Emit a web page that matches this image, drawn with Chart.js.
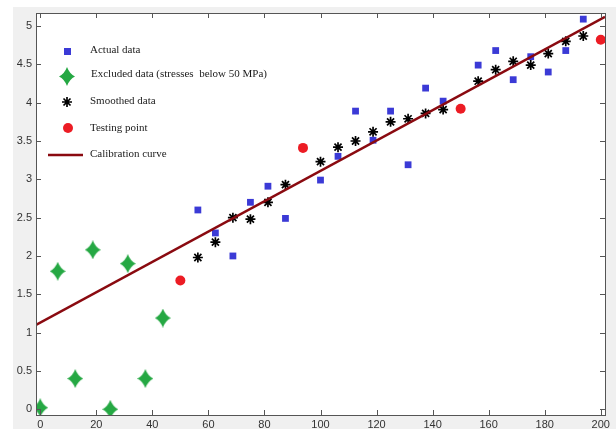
<!DOCTYPE html>
<html>
<head>
<meta charset="utf-8">
<script src="https://cdn.jsdelivr.net/npm/chart.js@4.4.1/dist/chart.umd.min.js"></script>
<style>
html, body { margin: 0; padding: 0; background: #fff; }
</style>
</head>
<body>
<canvas id="graph1" width="616" height="429"></canvas>
<script>
// data
var xTicks = [0, 20, 40, 60, 80, 100, 120, 140, 160, 180, 200];
var yTicks = [0, 0.5, 1, 1.5, 2, 2.5, 3, 3.5, 4, 4.5, 5];

var excludedX = [0, 6.25, 12.5, 18.75, 25, 31.25, 37.5, 43.75];
var excludedY = [0.02, 1.8, 0.4, 2.08, 0, 1.9, 0.4, 1.19];

var dataX = [56.25, 62.5, 68.75, 75, 81.25, 87.5, 100, 106.25, 112.5, 118.75, 125,
             131.25, 137.5, 143.75, 156.25, 162.5, 168.75, 175, 181.25, 187.5, 193.75];
var actualY = [2.6, 2.3, 2.0, 2.7, 2.91, 2.49, 2.99, 3.3, 3.89, 3.51, 3.89,
               3.19, 4.19, 4.02, 4.49, 4.68, 4.3, 4.6, 4.4, 4.68, 5.09];
var smoothedY = [1.98, 2.18, 2.5, 2.48, 2.7, 2.93, 3.23, 3.42, 3.5, 3.62, 3.75,
                 3.79, 3.86, 3.91, 4.28, 4.43, 4.54, 4.49, 4.64, 4.8, 4.87];

var testX = [50, 93.75, 150, 200];
var testY = [1.68, 3.41, 3.92, 4.82];

var calX = [-1.5, 201.5];
var calY = [1.1, 5.12];

function pts(xs, ys) {
    return xs.map(function (x, i) { return { x: x, y: ys[i] }; });
}

// green four-pointed star marker
function makeStar(color) {
    var c = document.createElement('canvas');
    c.width = 16; c.height = 19;
    var g = c.getContext('2d');
    var cx = 8, cy = 9.5, k = 2.6;
    g.fillStyle = color;
    g.beginPath();
    g.moveTo(cx, 0);
    g.quadraticCurveTo(cx + k, cy - k, 16, cy);
    g.quadraticCurveTo(cx + k, cy + k, cx, 19);
    g.quadraticCurveTo(cx - k, cy + k, 0, cy);
    g.quadraticCurveTo(cx - k, cy - k, cx, 0);
    g.closePath();
    g.fill();
    return c;
}
var greenStar = makeStar('#25a843');

var colBlue = '#3b3ad6', colRed = '#ec1c24', colLine = '#8a0a10';

var frame = {
    id: 'frame',
    beforeDraw: function (chart) {
        var c = chart.ctx, a = chart.chartArea;
        c.save();
        c.fillStyle = '#fff';
        c.fillRect(0, 0, chart.width, chart.height);
        c.fillStyle = '#f0f0f0';
        c.fillRect(13, 7, chart.width - 13, chart.height - 7);
        c.fillStyle = '#fff';
        c.fillRect(a.left, a.top, a.right - a.left, a.bottom - a.top);
        c.restore();
    },
    afterDraw: function (chart) {
        var c = chart.ctx, a = chart.chartArea;
        var xs = chart.scales.x, ys = chart.scales.y;
        c.save();
        // box and inward ticks
        c.strokeStyle = '#555';
        c.lineWidth = 1;
        c.strokeRect(a.left + 0.5, a.top + 0.5, a.right - a.left, a.bottom - a.top);
        c.beginPath();
        xTicks.forEach(function (v) {
            var p = Math.round(xs.getPixelForValue(v)) + 0.5;
            c.moveTo(p, a.bottom); c.lineTo(p, a.bottom - 5);
            c.moveTo(p, a.top); c.lineTo(p, a.top + 5);
        });
        yTicks.forEach(function (v) {
            var p = Math.round(ys.getPixelForValue(v)) + 0.5;
            c.moveTo(a.left, p); c.lineTo(a.left + 5, p);
            c.moveTo(a.right, p); c.lineTo(a.right - 5, p);
        });
        c.stroke();

        // legend
        var tx = 90;
        c.font = '11px "Liberation Serif", "Times New Roman", serif';
        c.fillStyle = '#1a1a1a';
        c.textBaseline = 'middle';
        c.fillText('Actual data', tx, 50);
        c.fillText('Excluded data (stresses  below 50 MPa)', tx + 1, 74);
        c.fillText('Smoothed data', tx, 101);
        c.fillText('Testing point', tx, 128);
        c.fillText('Calibration curve', tx, 154);

        c.fillStyle = colBlue;
        c.fillRect(64, 48, 7, 7);
        c.drawImage(greenStar, 59, 67);
        c.strokeStyle = '#000';
        c.lineWidth = 1.7;
        c.beginPath();
        c.moveTo(62, 102); c.lineTo(72, 102);
        c.moveTo(67, 97); c.lineTo(67, 107);
        c.moveTo(63.5, 98.5); c.lineTo(70.5, 105.5);
        c.moveTo(70.5, 98.5); c.lineTo(63.5, 105.5);
        c.stroke();
        c.fillStyle = colRed;
        c.beginPath();
        c.arc(68, 128, 5, 0, Math.PI * 2);
        c.fill();
        c.strokeStyle = colLine;
        c.lineWidth = 2.5;
        c.beginPath();
        c.moveTo(48, 155); c.lineTo(83, 155);
        c.stroke();
        c.restore();
    }
};

var ctx1 = document.getElementById('graph1').getContext('2d');
var graph1 = new Chart(ctx1, {
    type: 'scatter',
    data: {
        datasets: [{
            label: 'Calibration curve',
            type: 'line',
            data: pts(calX, calY),
            borderColor: colLine,
            borderWidth: 2.5,
            pointRadius: 0,
            order: 0,
            clip: 0
        }, {
            label: 'Testing point',
            data: pts(testX, testY),
            backgroundColor: colRed,
            borderWidth: 0,
            pointRadius: 5,
            order: 1,
            clip: 0
        }, {
            label: 'Smoothed data',
            data: pts(dataX, smoothedY),
            pointStyle: 'star',
            borderColor: '#000',
            borderWidth: 1.7,
            pointRadius: 5,
            order: 2,
            clip: 0
        }, {
            label: 'Actual data',
            data: pts(dataX, actualY),
            pointStyle: 'rect',
            backgroundColor: colBlue,
            borderWidth: 0,
            pointRadius: 4.8,
            order: 3,
            clip: 0
        }, {
            label: 'Excluded data (stresses  below 50 MPa)',
            data: pts(excludedX, excludedY),
            pointStyle: greenStar,
            pointRadius: 8,
            order: 4,
            clip: 0
        }]
    },
    options: {
        responsive: false,
        animation: false,
        events: [],
        layout: { padding: { top: 13, right: 11, left: 0, bottom: 0 } },
        plugins: { legend: { display: false }, tooltip: { enabled: false } },
        scales: {
            x: {
                type: 'linear',
                min: -1.5, max: 201.5,
                grid: { display: false, drawTicks: false },
                border: { display: false },
                afterBuildTicks: function (s) { s.ticks = xTicks.map(function (v) { return { value: v }; }); },
                afterFit: function (s) { s.height = 14; },
                ticks: {
                    padding: 3,
                    maxRotation: 0,
                    autoSkip: false,
                    color: '#333',
                    font: { family: '"Liberation Sans", Arial, sans-serif', size: 11 }
                }
            },
            y: {
                type: 'linear',
                min: -0.075, max: 5.17,
                grid: { display: false, drawTicks: false },
                border: { display: false },
                afterBuildTicks: function (s) { s.ticks = yTicks.map(function (v) { return { value: v }; }); },
                afterFit: function (s) { s.width = 36; },
                ticks: {
                    padding: 4,
                    autoSkip: false,
                    color: '#333',
                    font: { family: '"Liberation Sans", Arial, sans-serif', size: 11 },
                    callback: function (v) { return String(+v.toFixed(2)); }
                }
            }
        }
    },
    plugins: [frame]
});
</script>
</body>
</html>
